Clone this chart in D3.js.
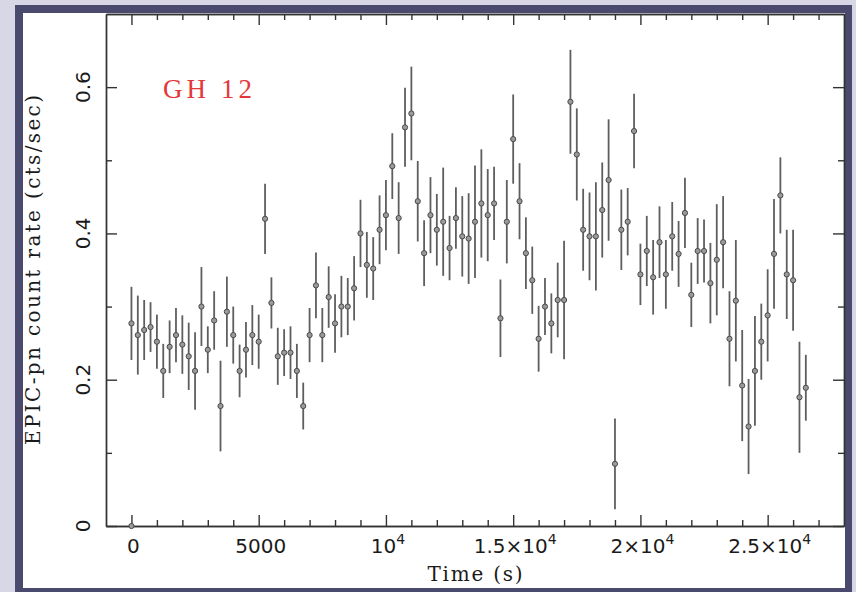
<!DOCTYPE html>
<html>
<head>
<meta charset="utf-8">
<script src="https://cdn.jsdelivr.net/npm/d3@7"></script>
<style>
  body { margin: 0; background: #d7d7e5; }
  svg { display: block; }
</style>
</head>
<body>
<div id="graphic"></div>
<script>
// light curve data, 250 s bins
let time = [0, 0, 250, 500, 750, 1000, 1250, 1500, 1750, 2000, 2250, 2500, 2750, 3000, 3250, 3500, 3750, 4000,
  4250, 4500, 4750, 5000, 5250, 5500, 5750, 6000, 6250, 6500, 6750, 7000, 7250, 7500, 7750, 8000,
  8250, 8500, 8750, 9000, 9250, 9500, 9750, 10000, 10250, 10500, 10750, 11000, 11250, 11500, 11750, 12000,
  12250, 12500, 12750, 13000, 13250, 13500, 13750, 14000, 14250, 14500, 14750, 15000, 15250, 15500, 15750, 16000,
  16250, 16500, 16750, 17000, 17250, 17500, 17750, 18000, 18250, 18500, 18750, 19000, 19250, 19500, 19750, 20000,
  20250, 20500, 20750, 21000, 21250, 21500, 21750, 22000, 22250, 22500, 22750, 23000, 23250, 23500, 23750, 24000,
  24250, 24500, 24750, 25000, 25250, 25500, 25750, 26000, 26250, 26500];
let rate = [0, 0.277, 0.261, 0.268, 0.272, 0.252, 0.212, 0.245, 0.261, 0.248, 0.232, 0.212, 0.300, 0.241, 0.281, 0.164, 0.293, 0.261,
  0.212, 0.241, 0.261, 0.252, 0.420, 0.305, 0.232, 0.237, 0.237, 0.212, 0.164, 0.261, 0.329, 0.261, 0.313, 0.277,
  0.300, 0.300, 0.325, 0.400, 0.357, 0.352, 0.405, 0.425, 0.492, 0.421, 0.545, 0.564, 0.444, 0.373, 0.425, 0.405,
  0.416, 0.380, 0.421, 0.396, 0.393, 0.416, 0.441, 0.425, 0.441, 0.284, 0.416, 0.529, 0.444, 0.373, 0.336, 0.256,
  0.300, 0.277, 0.309, 0.309, 0.580, 0.508, 0.405, 0.396, 0.396, 0.432, 0.473, 0.085, 0.405, 0.416, 0.540, 0.344,
  0.376, 0.340, 0.388, 0.344, 0.396, 0.372, 0.428, 0.316, 0.376, 0.376, 0.332, 0.364, 0.388, 0.256, 0.308, 0.192,
  0.136, 0.212, 0.252, 0.288, 0.372, 0.452, 0.344, 0.336, 0.176, 0.189];
let rateErr = [0, 0.050, 0.054, 0.041, 0.034, 0.037, 0.037, 0.036, 0.037, 0.040, 0.046, 0.053, 0.054, 0.032, 0.040, 0.062, 0.048, 0.039,
  0.036, 0.038, 0.041, 0.037, 0.048, 0.035, 0.039, 0.032, 0.036, 0.037, 0.032, 0.037, 0.045, 0.037, 0.042, 0.040,
  0.042, 0.039, 0.044, 0.046, 0.045, 0.043, 0.047, 0.048, 0.045, 0.049, 0.054, 0.064, 0.055, 0.045, 0.052, 0.049,
  0.074, 0.044, 0.042, 0.055, 0.062, 0.077, 0.074, 0.063, 0.050, 0.053, 0.057, 0.061, 0.052, 0.049, 0.046, 0.045,
  0.039, 0.041, 0.051, 0.081, 0.071, 0.063, 0.056, 0.060, 0.074, 0.065, 0.083, 0.062, 0.055, 0.046, 0.051, 0.042,
  0.048, 0.051, 0.049, 0.047, 0.047, 0.045, 0.048, 0.044, 0.045, 0.043, 0.055, 0.076, 0.063, 0.065, 0.083, 0.076,
  0.065, 0.075, 0.052, 0.063, 0.075, 0.052, 0.061, 0.069, 0.076, 0.045];

// tick labels
let xMajor = [0, 5000, 10000, 15000, 20000, 25000];
let xMinor = [1000, 2000, 3000, 4000, 6000, 7000, 8000, 9000, 11000, 12000, 13000, 14000,
  16000, 17000, 18000, 19000, 21000, 22000, 23000, 24000, 26000, 27000];
let xLabelBase = ["0", "5000", "10", "1.5\u00d710", "2\u00d710", "2.5\u00d710"];
let xLabelExp = ["", "", "4", "4", "4", "4"];
let yMajor = [0, 0.2, 0.4, 0.6];
let yMinor = [0.1, 0.3, 0.5];
let yLabels = ["0", "0.2", "0.4", "0.6"];

let data = time.map((t, i) => ({t: t, r: rate[i], e: rateErr[i]}));

let W = 856, H = 592;
let margin = {top: 14, right: 12, bottom: 66, left: 106};
let width = W - margin.left - margin.right;
let height = H - margin.top - margin.bottom;

let svg = d3.select("#graphic")
  .append("svg")
    .attr("width", W)
    .attr("height", H);

// frame
svg.append("rect").attr("x", 0).attr("y", 0).attr("width", W).attr("height", H).attr("fill", "#d7d7e5");
svg.append("rect").attr("x", 15).attr("y", 5).attr("width", 837).attr("height", 600).attr("fill", "#4a4a6f");
svg.append("rect").attr("x", 23).attr("y", 13).attr("width", 822).attr("height", 575).attr("fill", "#ffffff");

let g = svg.append("g")
  .attr("transform", "translate(" + margin.left + "," + margin.top + ")");

let x = d3.scaleLinear().domain([-1000, 28000]).range([0, width]);
let y = d3.scaleLinear().domain([0, 0.7]).range([height, 0]);

function styleAxis(sel) {
  sel.selectAll("path, line").attr("stroke", "#333").attr("stroke-width", 1.4);
  sel.selectAll("text").remove();
}

// major and minor ticks on all four sides, pointing inward
[[xMajor, 11], [xMinor, 6]].forEach(function(p) {
  g.append("g").attr("transform", "translate(0," + height + ")")
    .call(d3.axisBottom(x).tickValues(p[0]).tickSizeInner(-p[1]).tickSizeOuter(0)).call(styleAxis);
  g.append("g")
    .call(d3.axisTop(x).tickValues(p[0]).tickSizeInner(-p[1]).tickSizeOuter(0)).call(styleAxis);
});
[[yMajor, 11], [yMinor, 6]].forEach(function(p) {
  g.append("g")
    .call(d3.axisLeft(y).tickValues(p[0]).tickSizeInner(-p[1]).tickSizeOuter(0)).call(styleAxis);
  g.append("g").attr("transform", "translate(" + width + ",0)")
    .call(d3.axisRight(y).tickValues(p[0]).tickSizeInner(-p[1]).tickSizeOuter(0)).call(styleAxis);
});

// x tick labels with superscripts
let xl = g.append("g").selectAll("text")
  .data(xMajor)
  .enter()
  .append("text")
    .attr("x", d => x(d) + 2)
    .attr("y", height + 27)
    .attr("text-anchor", "middle")
    .style("font-family", "DejaVu Sans")
    .style("font-size", "20px")
    .attr("fill", "#1a1a1a");
xl.append("tspan").text((d, i) => xLabelBase[i]);
xl.append("tspan")
  .attr("dy", -9)
  .style("font-size", "14px")
  .text((d, i) => xLabelExp[i]);

// y tick labels, rotated
g.append("g").selectAll("text")
  .data(yMajor)
  .enter()
  .append("text")
    .attr("transform", d => "translate(-16," + y(d) + ")rotate(-90)")
    .attr("text-anchor", "middle")
    .style("font-family", "DejaVu Sans")
    .style("font-size", "20px")
    .attr("fill", "#1a1a1a")
    .text((d, i) => yLabels[i]);

// axis titles
g.append("text")
  .attr("x", width / 2)
  .attr("y", height + 55)
  .attr("text-anchor", "middle")
  .attr("textLength", 95)
  .attr("lengthAdjust", "spacing")
  .style("font-family", "DejaVu Serif")
  .style("font-size", "20px")
  .attr("fill", "#1a1a1a")
  .text("Time (s)");

g.append("text")
  .attr("transform", "translate(-66," + (height / 2) + ")rotate(-90)")
  .attr("text-anchor", "middle")
  .attr("textLength", 350)
  .attr("lengthAdjust", "spacing")
  .style("font-family", "DejaVu Serif")
  .style("font-size", "20px")
  .attr("fill", "#1a1a1a")
  .text("EPIC-pn count rate (cts/sec)");

// source label
g.append("text")
  .attr("x", 57)
  .attr("y", 84)
  .attr("textLength", 89)
  .attr("lengthAdjust", "spacing")
  .style("font-family", "Liberation Serif")
  .style("font-size", "27px")
  .attr("fill", "#e4373a")
  .text("GH 12");

// error bars
g.selectAll("line.err")
  .data(data)
  .enter()
  .append("line")
    .attr("class", "err")
    .attr("x1", d => x(d.t))
    .attr("x2", d => x(d.t))
    .attr("y1", d => y(d.r - d.e))
    .attr("y2", d => y(d.r + d.e))
    .attr("stroke", "#5e5e5e")
    .attr("stroke-width", 1.8);

// points
g.selectAll("circle.pt")
  .data(data)
  .enter()
  .append("circle")
    .attr("class", "pt")
    .attr("cx", d => x(d.t))
    .attr("cy", d => y(d.r))
    .attr("r", 2.6)
    .attr("fill", "#9a9a9a")
    .attr("stroke", "#4a4a4a")
    .attr("stroke-width", 1);
</script>
</body>
</html>
